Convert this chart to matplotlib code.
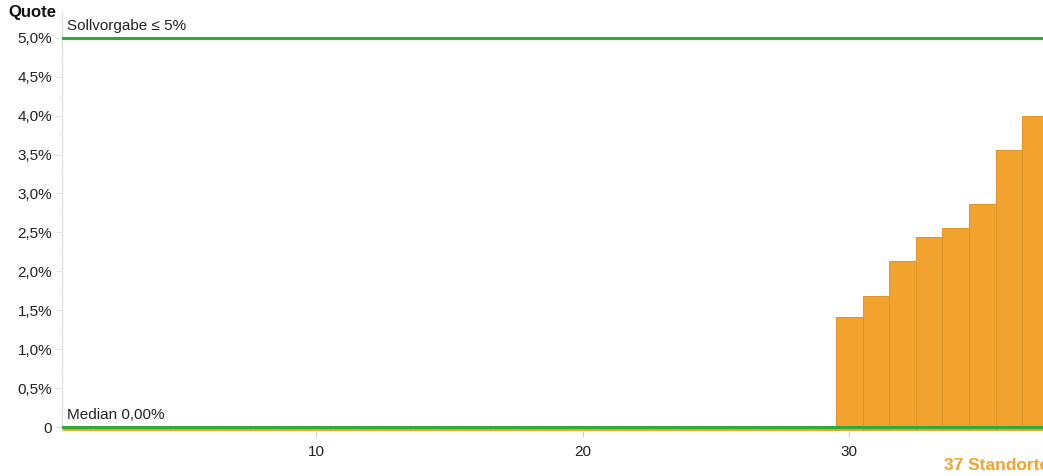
import matplotlib
matplotlib.use("Agg")
import matplotlib.pyplot as plt
from matplotlib.ticker import MultipleLocator

plt.rcParams['font.family'] = ['Liberation Sans', 'DejaVu Sans']

# Data
standorte = list(range(1, 38))
quote = [0.0] * 29 + [1.42, 1.68, 2.13, 2.44, 2.56, 2.86, 3.56, 4.00]
sollvorgabe = 5.0
median = 0.0
y_ticks = [0, 0.5, 1.0, 1.5, 2.0, 2.5, 3.0, 3.5, 4.0, 4.5, 5.0]
y_labels = ["0", "0,5%", "1,0%", "1,5%", "2,0%", "2,5%", "3,0%", "3,5%", "4,0%", "4,5%", "5,0%"]
x_ticks = [10, 20, 30]

W, H = 1043, 476
fig = plt.figure(figsize=(W / 100, H / 100), dpi=100)
left, right, top, bottom = 62, 1049, 12, 431
ax = fig.add_axes([left / W, 1 - bottom / H, (right - left) / W, (bottom - top) / H])

orange = "#F2A32D"
edge = "#DE9528"
green = "#2EAA3C"

ax.bar(standorte, quote, width=1.0, color=orange, edgecolor=edge, linewidth=0.7, zorder=2)
ax.axhspan(-0.05, 0, color=orange, zorder=1.5, lw=0)
for x in standorte:
    ax.plot([x + 0.5, x + 0.5], [-0.05, 0], color=edge, lw=0.8, zorder=1.6)

ax.axhline(sollvorgabe, color=green, lw=2.2, zorder=3)
ax.axhline(median, color=green, lw=2.2, zorder=3)

ax.set_xlim(0.45, 37.5)
ax.set_ylim(-0.05, 5.33)

ax.set_yticks(y_ticks)
ax.set_yticklabels(y_labels)
ax.yaxis.set_minor_locator(MultipleLocator(0.25))
ax.set_xticks(x_ticks)
ax.set_xticklabels([str(t) for t in x_ticks])

for s in ["top", "right", "bottom"]:
    ax.spines[s].set_visible(False)
ax.spines["left"].set_color("#E0E0E0")
ax.spines["left"].set_linewidth(1.0)

ax.tick_params(axis="y", which="major", length=4, color="#E0E0E0", labelsize=11, labelcolor="#222222", pad=3)
ax.tick_params(axis="y", which="minor", length=2, color="#E6E6E6")
ax.tick_params(axis="x", which="major", length=4, color="#D0D0D0", labelsize=11, labelcolor="#222222", pad=6)

ax.text(0.005, sollvorgabe + 0.06, "Sollvorgabe ≤ 5%", transform=ax.get_yaxis_transform(),
        fontsize=11, color="#222222", va="bottom", ha="left")
ax.text(0.005, median + 0.06, "Median 0,00%", transform=ax.get_yaxis_transform(),
        fontsize=11, color="#222222", va="bottom", ha="left")

fig.text(8 / W, 1 - 12 / H, "Quote", fontsize=12, fontweight="bold", color="#111111", ha="left", va="center")
fig.text(944 / W, 1 - 466 / H, "37 Standorte", fontsize=12.5, fontweight="bold", color=orange, ha="left", va="center")

fig.savefig("out.png", dpi=100)
